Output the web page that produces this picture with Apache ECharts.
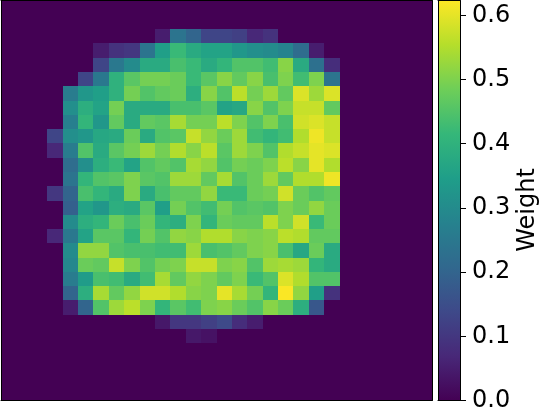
<!DOCTYPE html>
<html>
<head>
<meta charset="utf-8">
<style>
html, body { margin: 0; padding: 0; background: #fff; }
#chart { width: 541px; height: 410px; }
</style>
</head>
<body>
<div id="chart"></div>
<script src="https://cdn.jsdelivr.net/npm/echarts@6/dist/echarts.min.js"></script>
<script>
var weights = [
	[0,0,0,0,0,0,0,0,0,0,0,0,0,0,0,0,0,0,0,0,0,0,0,0,0,0,0,0],
	[0,0,0,0,0,0,0,0,0,0,0,0,0,0,0,0,0,0,0,0,0,0,0,0,0,0,0,0],
	[0,0,0,0,0,0,0,0,0,0,.05,.24,.2,.13,.13,.12,.07,.09,0,0,0,0,0,0,0,0,0,0],
	[0,0,0,0,0,0,.05,.09,.1,.24,.35,.42,.38,.36,.36,.33,.31,.3,.28,.22,.05,0,0,0,0,0,0,0],
	[0,0,0,0,0,0,.13,.25,.3,.38,.38,.44,.42,.38,.41,.45,.45,.43,.51,.38,.23,.08,0,0,0,0,0,0],
	[0,0,0,0,0,.13,.25,.4,.46,.49,.49,.48,.42,.46,.51,.47,.51,.44,.5,.43,.5,.24,0,0,0,0,0,0],
	[0,0,0,0,.26,.33,.35,.4,.49,.45,.47,.48,.39,.51,.45,.56,.49,.53,.47,.59,.53,.59,0,0,0,0,0,0],
	[0,0,0,0,.31,.39,.36,.49,.38,.38,.38,.44,.44,.46,.36,.37,.51,.45,.5,.57,.57,.47,0,0,0,0,0,0],
	[0,0,0,0,.27,.41,.33,.47,.38,.47,.46,.54,.49,.49,.56,.5,.45,.5,.44,.58,.59,.57,0,0,0,0,0,0],
	[0,0,0,.13,.31,.33,.37,.38,.48,.38,.45,.46,.57,.52,.48,.53,.43,.41,.43,.55,.61,.57,0,0,0,0,0,0],
	[0,0,0,.07,.26,.45,.38,.46,.49,.53,.49,.55,.51,.56,.46,.53,.5,.45,.55,.57,.6,.59,0,0,0,0,0,0],
	[0,0,0,0,.22,.31,.39,.42,.36,.45,.47,.45,.54,.52,.45,.49,.48,.5,.56,.51,.6,.55,0,0,0,0,0,0],
	[0,0,0,0,.24,.41,.45,.46,.5,.46,.45,.53,.53,.47,.54,.45,.48,.53,.47,.55,.55,.61,0,0,0,0,0,0],
	[0,0,0,.1,.2,.44,.41,.38,.5,.38,.44,.47,.47,.52,.42,.42,.48,.49,.58,.48,.45,.47,0,0,0,0,0,0],
	[0,0,0,0,.19,.36,.33,.39,.38,.46,.35,.49,.45,.43,.49,.45,.46,.45,.5,.48,.52,.48,0,0,0,0,0,0],
	[0,0,0,0,.3,.39,.41,.48,.44,.48,.41,.39,.5,.41,.48,.47,.47,.56,.5,.58,.42,.48,0,0,0,0,0,0],
	[0,0,0,.07,.25,.36,.46,.46,.41,.49,.45,.52,.51,.55,.55,.51,.5,.51,.56,.55,.47,.47,0,0,0,0,0,0],
	[0,0,0,0,.3,.52,.52,.45,.44,.44,.43,.43,.53,.44,.45,.47,.5,.51,.44,.37,.48,.38,0,0,0,0,0,0],
	[0,0,0,0,.29,.48,.47,.57,.5,.45,.49,.5,.57,.57,.5,.51,.45,.53,.54,.53,.41,.38,0,0,0,0,0,0],
	[0,0,0,0,.26,.34,.44,.43,.38,.43,.54,.47,.52,.5,.47,.5,.42,.45,.59,.55,.45,.45,0,0,0,0,0,0],
	[0,0,0,0,.2,.39,.54,.47,.52,.58,.58,.55,.51,.5,.6,.54,.49,.41,.62,.52,.35,.09,0,0,0,0,0,0],
	[0,0,0,0,.05,.2,.45,.53,.56,.5,.41,.46,.43,.5,.51,.48,.45,.51,.48,.39,.17,0,0,0,0,0,0,0],
	[0,0,0,0,0,0,0,0,0,0,.04,.1,.1,.12,.14,.08,.05,0,0,0,0,0,0,0,0,0,0,0],
	[0,0,0,0,0,0,0,0,0,0,0,0,.04,.03,0,0,0,0,0,0,0,0,0,0,0,0,0,0],
	[0,0,0,0,0,0,0,0,0,0,0,0,0,0,0,0,0,0,0,0,0,0,0,0,0,0,0,0],
	[0,0,0,0,0,0,0,0,0,0,0,0,0,0,0,0,0,0,0,0,0,0,0,0,0,0,0,0],
	[0,0,0,0,0,0,0,0,0,0,0,0,0,0,0,0,0,0,0,0,0,0,0,0,0,0,0,0],
	[0,0,0,0,0,0,0,0,0,0,0,0,0,0,0,0,0,0,0,0,0,0,0,0,0,0,0,0]
];
var weightMax = 0.623;
var tickValues = [0, 0.1, 0.2, 0.3, 0.4, 0.5, 0.6];
var barLabel = 'Weight';
var viridis = ['#440154', '#482878', '#3e4989', '#31688e', '#26828e', '#1f9e89', '#35b779', '#6ece58', '#b5de2b', '#fde725'];

var cells = [];
var indices = [];
weights.forEach(function (row, r) {
	indices.push(r);
	row.forEach(function (v, c) {
		cells.push([c, r, v]);
	});
});

var stops = viridis.map(function (color, i) {
	return {offset: i / (viridis.length - 1), color: color};
});

// extra axes only draw the frame sides
function frameAxis(grid, position, type, extra) {
	var axis = {
		gridIndex: grid,
		type: type,
		position: position,
		axisLine: {show: true, onZero: false, lineStyle: {color: '#000', width: 1}},
		axisTick: {show: false},
		axisLabel: {show: false},
		splitLine: {show: false},
		splitArea: {show: false},
		z: 5
	};
	return Object.assign(axis, extra || {});
}

// rounded edges so neighbouring cells leave no seam
function renderCell(params, api) {
	var center = api.coord([api.value(0), api.value(1)]);
	var size = api.size([1, 1]);
	var x0 = Math.round(center[0] - size[0] / 2);
	var x1 = Math.round(center[0] + size[0] / 2);
	var y0 = Math.round(center[1] - size[1] / 2);
	var y1 = Math.round(center[1] + size[1] / 2);
	return {
		type: 'rect',
		shape: {x: x0, y: y0, width: x1 - x0, height: y1 - y0},
		style: {fill: api.visual('color')}
	};
}

function renderColorbar(params, api) {
	var top = api.coord([0, api.value(1)]);
	var bottom = api.coord([0, 0]);
	return {
		type: 'rect',
		shape: {
			x: params.coordSys.x,
			y: top[1],
			width: params.coordSys.width,
			height: bottom[1] - top[1]
		},
		style: {
			fill: {type: 'linear', x: 0, y: 1, x2: 0, y2: 0, colorStops: stops}
		}
	};
}

var chart = echarts.init(document.getElementById('chart'));
chart.setOption({
	animation: false,
	backgroundColor: '#fff',
	textStyle: {fontFamily: 'DejaVu Sans'},
	grid: [
		{left: 1, top: 0.5, width: 431, height: 400, outerBoundsMode: 'none'},
		{left: 438, top: 0.5, width: 22, height: 400, outerBoundsMode: 'none'}
	],
	xAxis: [
		frameAxis(0, 'bottom', 'category', {data: indices}),
		frameAxis(0, 'top', 'category', {data: indices}),
		frameAxis(1, 'bottom', 'category', {data: [barLabel]}),
		frameAxis(1, 'top', 'category', {data: [barLabel]})
	],
	yAxis: [
		frameAxis(0, 'left', 'category', {data: indices, inverse: true}),
		frameAxis(0, 'right', 'category', {data: indices, inverse: true}),
		frameAxis(1, 'left', 'value', {min: 0, max: weightMax}),
		frameAxis(1, 'right', 'value', {
			min: 0,
			max: weightMax,
			name: barLabel,
			nameLocation: 'middle',
			nameRotate: 90,
			nameGap: 56,
			nameTextStyle: {color: '#000', fontSize: 24, fontFamily: 'DejaVu Sans', padding: [0, 19, 0, 0]},
			axisTick: {show: true, length: 6, customValues: tickValues, lineStyle: {color: '#000', width: 1}},
			axisLabel: {
				show: true,
				customValues: tickValues,
				margin: 12,
				color: '#000',
				fontSize: 24,
				fontFamily: 'DejaVu Sans',
				formatter: function (v) { return v.toFixed(1); }
			}
		})
	],
	visualMap: {
		show: false,
		seriesIndex: 0,
		dimension: 2,
		min: 0,
		max: weightMax,
		inRange: {color: viridis}
	},
	series: [
		{
			type: 'custom',
			xAxisIndex: 0,
			yAxisIndex: 0,
			data: cells,
			encode: {x: 0, y: 1},
			renderItem: renderCell,
			silent: true,
			progressive: 0
		},
		{
			type: 'custom',
			xAxisIndex: 2,
			yAxisIndex: 2,
			data: [[0, weightMax]],
			encode: {x: 0, y: 1},
			renderItem: renderColorbar,
			silent: true
		}
	]
});
</script>
</body>
</html>
